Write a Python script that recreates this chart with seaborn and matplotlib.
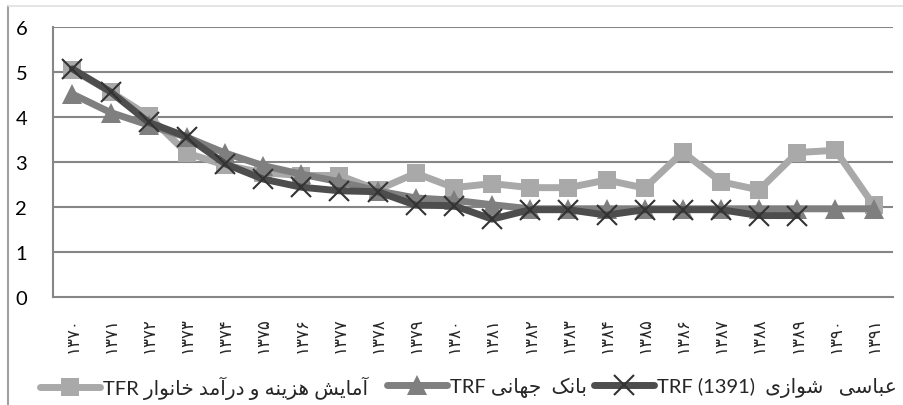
import numpy as np
import pandas as pd
import seaborn as sns
import matplotlib.pyplot as plt
from matplotlib.lines import Line2D

# ===============================
# Datos
# ===============================
years = ["۱۳۷۰", "۱۳۷۱", "۱۳۷۲", "۱۳۷۳", "۱۳۷۴", "۱۳۷۵", "۱۳۷۶", "۱۳۷۷",
         "۱۳۷۸", "۱۳۷۹", "۱۳۸۰", "۱۳۸۱", "۱۳۸۲", "۱۳۸۳", "۱۳۸۴", "۱۳۸۵",
         "۱۳۸۶", "۱۳۸۷", "۱۳۸۸", "۱۳۸۹", "۱۳۹۰", "۱۳۹۱"]

tfr_heis = [5.05, 4.56, 4.02, 3.2, 2.93, 2.76, 2.7, 2.7, 2.38, 2.75, 2.43,
            2.52, 2.43, 2.43, 2.6, 2.42, 3.22, 2.56, 2.38, 3.21, 3.26, 2.04]
trf_wb = [4.51, 4.1, 3.82, 3.55, 3.2, 2.92, 2.73, 2.56, 2.36, 2.2, 2.15,
          2.05, 1.96, 1.96, 1.96, 1.96, 1.96, 1.96, 1.96, 1.96, 1.96, 1.96]
trf_abbasi = [5.07, 4.56, 3.88, 3.56, 2.96, 2.62, 2.44, 2.36, 2.34, 2.04, 2.03,
              1.73, 1.94, 1.94, 1.82, 1.94, 1.94, 1.94, 1.81, 1.81, np.nan, np.nan]

yticks = [0, 1, 2, 3, 4, 5, 6]

# ===============================
# Forma de letras persas (matplotlib no hace shaping)
# ===============================
DUAL = {
    "ب": (0xFE8F, 0xFE90, 0xFE91, 0xFE92), "ج": (0xFE9D, 0xFE9E, 0xFE9F, 0xFEA0),
    "خ": (0xFEA5, 0xFEA6, 0xFEA7, 0xFEA8), "س": (0xFEB1, 0xFEB2, 0xFEB3, 0xFEB4),
    "ش": (0xFEB5, 0xFEB6, 0xFEB7, 0xFEB8), "ع": (0xFEC9, 0xFECA, 0xFECB, 0xFECC),
    "م": (0xFEE1, 0xFEE2, 0xFEE3, 0xFEE4), "ن": (0xFEE5, 0xFEE6, 0xFEE7, 0xFEE8),
    "ه": (0xFEE9, 0xFEEA, 0xFEEB, 0xFEEC), "ک": (0xFB8E, 0xFB8F, 0xFB90, 0xFB91),
    "ی": (0xFBFC, 0xFBFD, 0xFBFE, 0xFBFF),
}
RIGHT = {
    "آ": (0xFE81, 0xFE82), "ا": (0xFE8D, 0xFE8E), "د": (0xFEA9, 0xFEAA),
    "ر": (0xFEAD, 0xFEAE), "ز": (0xFEAF, 0xFEB0), "و": (0xFEED, 0xFEEE),
}


def shape_word(w):
    out = []
    for i, ch in enumerate(w):
        prev = w[i - 1] if i > 0 else None
        nxt = w[i + 1] if i < len(w) - 1 else None
        forms = DUAL.get(ch) or RIGHT.get(ch)
        if forms is None:
            out.append(ch)
            continue
        j_prev = prev in DUAL
        j_next = ch in DUAL and nxt is not None and (nxt in DUAL or nxt in RIGHT)
        if j_prev and j_next:
            f = forms[3]
        elif j_prev:
            f = forms[1]
        elif j_next:
            f = forms[2]
        else:
            f = forms[0]
        out.append(chr(f))
    return "".join(reversed(out))


def rtl(text, sep=" "):
    return sep.join(shape_word(w) for w in reversed(text.split()))


labels = [
    "TFR " + rtl("آمایش هزینه و درآمد خانوار"),
    "TRF " + rtl("بانک جهانی", "  "),
    "TRF (1391)  " + rtl("عباسی شوازی", "   "),
]

# ===============================
# Gráfico
# ===============================
sns.set_style("white")
plt.rcParams["font.family"] = ["Lato", "DejaVu Sans"]

fig = plt.figure(figsize=(9.04, 4.06), dpi=100)
ax = fig.add_axes([53.3 / 904, 1 - 298 / 406, (892.7 - 53.3) / 904, 270 / 406])

x = np.arange(len(years))
grid_c = "#868686"

sns.lineplot(x=x, y=tfr_heis, ax=ax, color="#A9A9A9", lw=5, marker="s",
             markersize=13, markeredgewidth=0, label=labels[0], zorder=3)
sns.lineplot(x=x, y=trf_wb, ax=ax, color="#7F7F7F", lw=5, marker="^",
             markersize=14, markeredgewidth=0, label=labels[1], zorder=4)
sns.lineplot(x=x, y=trf_abbasi, ax=ax, color="#4D4D4D", lw=5, marker="x",
             markersize=15, markeredgewidth=1.5, markeredgecolor="#333333",
             label=labels[2], zorder=5)

ax.set_xlim(-0.5, len(years) - 0.5)
ax.set_ylim(0, 6)
ax.set_yticks(yticks)
ax.set_yticklabels([str(v) for v in yticks], fontsize=14.5, color="#000000")
for v in yticks[1:]:
    ax.axhline(v, color=grid_c, lw=1.5, zorder=1)

ax.set_xticks(np.arange(-0.5, len(years)), minor=False)
ax.set_xticklabels([])
ax.set_xticks(x, minor=True)
ax.set_xticklabels(years, minor=True, rotation=90, fontsize=12,
                   family="DejaVu Sans")
ax.tick_params(axis="x", which="major", length=4.5, width=1.5, color=grid_c,
               direction="out")
ax.tick_params(axis="x", which="minor", length=0, pad=14)
ax.tick_params(axis="y", length=5.8, width=1.5, color=grid_c, direction="out",
               pad=13)

for s in ["top", "right"]:
    ax.spines[s].set_visible(False)
for s in ["left", "bottom"]:
    ax.spines[s].set_color(grid_c)
    ax.spines[s].set_linewidth(1.5)

ax.set_xlabel("")
ax.set_ylabel("")

handles, _ = ax.get_legend_handles_labels()
ax.get_legend().remove()

# una leyenda por serie, en la posición de su marcador
leg_x = [40, 387, 594]
for h, lab, lx in zip(handles, labels, leg_x):
    lg = fig.legend([h], [lab], loc="center left",
                    bbox_to_anchor=(lx / 904, 1 - 388 / 406), frameon=False,
                    fontsize=14.5, handlelength=3.0, handletextpad=0.15,
                    borderpad=0, borderaxespad=0)

# bordes del área del gráfico (recortado)
fig.add_artist(Line2D([8 / 904, 8 / 904], [0, 1 - 7 / 406], color="#A0A0A0", lw=1.5))
fig.add_artist(Line2D([8 / 904, 1], [1 - 7 / 406, 1 - 7 / 406], color="#E0E0E0", lw=1.2))

fig.savefig("out.png", dpi=100)
